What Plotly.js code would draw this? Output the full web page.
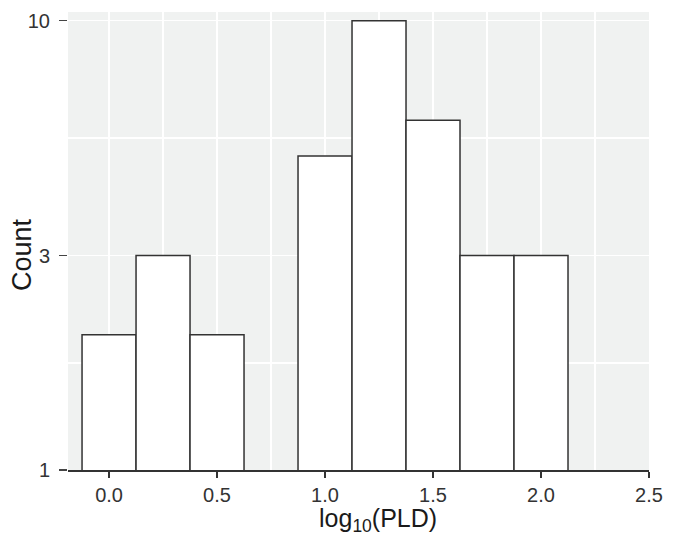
<!DOCTYPE html>
<html>
<head>
<meta charset="utf-8">
<script src="https://cdn.plot.ly/plotly-3.0.1.min.js"></script>
<style>html,body{margin:0;padding:0;background:#fff;}#chart{width:675px;height:536px;}</style>
</head>
<body>
<div id="chart"></div>
<script>
// Bin centers of log10(PLD) (bin width 0.25); the 0.75 bin is empty
const binCenters = [0.0, 0.25, 0.5, 1.0, 1.25, 1.5, 1.75, 2.0];
const counts = [2, 3, 2, 5, 10, 6, 3, 3];
const xTickVals = [0.0, 0.5, 1.0, 1.5, 2.0, 2.5];
const xTickText = ['0.0', '0.5', '1.0', '1.5', '2.0', '2.5'];
const yTickVals = [1, 3, 10];
const yTickText = ['1', '3', '10'];
const yMinorGrid = [Math.sqrt(3), Math.sqrt(30)];
const xTitle = 'log<sub>10</sub>(PLD)';
const yTitle = 'Count';

const font = 'Liberation Sans, Arial, Helvetica, sans-serif';

Plotly.newPlot('chart', [{
  type: 'bar',
  x: binCenters,
  y: counts,
  width: 0.25,
  marker: {color: '#ffffff', line: {color: '#333333', width: 1.5}},
  hoverinfo: 'x+y'
}], {
  width: 675, height: 536,
  margin: {l: 68, r: 26, t: 12, b: 66},
  paper_bgcolor: '#ffffff',
  plot_bgcolor: '#f0f2f1',
  showlegend: false,
  font: {family: font, color: '#222222'},
  xaxis: {
    range: [-0.19, 2.5],
    tickmode: 'array', tickvals: xTickVals, ticktext: xTickText,
    ticks: 'outside', ticklen: 6, tickwidth: 1.5, tickcolor: '#333333',
    ticklabelstandoff: 0,
    showline: true, linecolor: '#333333', linewidth: 1.5,
    showgrid: true, gridcolor: '#ffffff', gridwidth: 1.5,
    minor: {tickmode: 'linear', tick0: 0, dtick: 0.25, showgrid: true, gridcolor: '#ffffff', gridwidth: 1.5, ticks: ''},
    zeroline: false,
    tickfont: {size: 20, family: font, color: '#333333'}
  },
  yaxis: {
    type: 'log',
    range: [0, 1.0193],
    tickmode: 'array', tickvals: yTickVals, ticktext: yTickText,
    ticks: 'outside', ticklen: 8, tickwidth: 1.2, tickcolor: '#444444',
    ticklabelstandoff: 5,
    showline: false,
    showgrid: true, gridcolor: '#ffffff', gridwidth: 1.5,
    minor: {tickmode: 'array', tickvals: yMinorGrid, showgrid: true, gridcolor: '#ffffff', gridwidth: 1.5, ticks: ''},
    zeroline: false,
    tickfont: {size: 20, family: font, color: '#333333'}
  },
  annotations: [
    {text: xTitle, xref: 'paper', yref: 'paper', x: 0.5336, y: -0.11,
     xanchor: 'center', yanchor: 'middle', showarrow: false,
     font: {size: 25, family: font, color: '#1a1a1a'}},
    {text: yTitle, xref: 'paper', yref: 'paper', x: -0.0792, y: 0.4716,
     xanchor: 'center', yanchor: 'middle', textangle: -90, showarrow: false,
     font: {size: 27, family: font, color: '#1a1a1a'}}
  ]
}, {displayModeBar: false, staticPlot: true});
</script>
</body>
</html>
